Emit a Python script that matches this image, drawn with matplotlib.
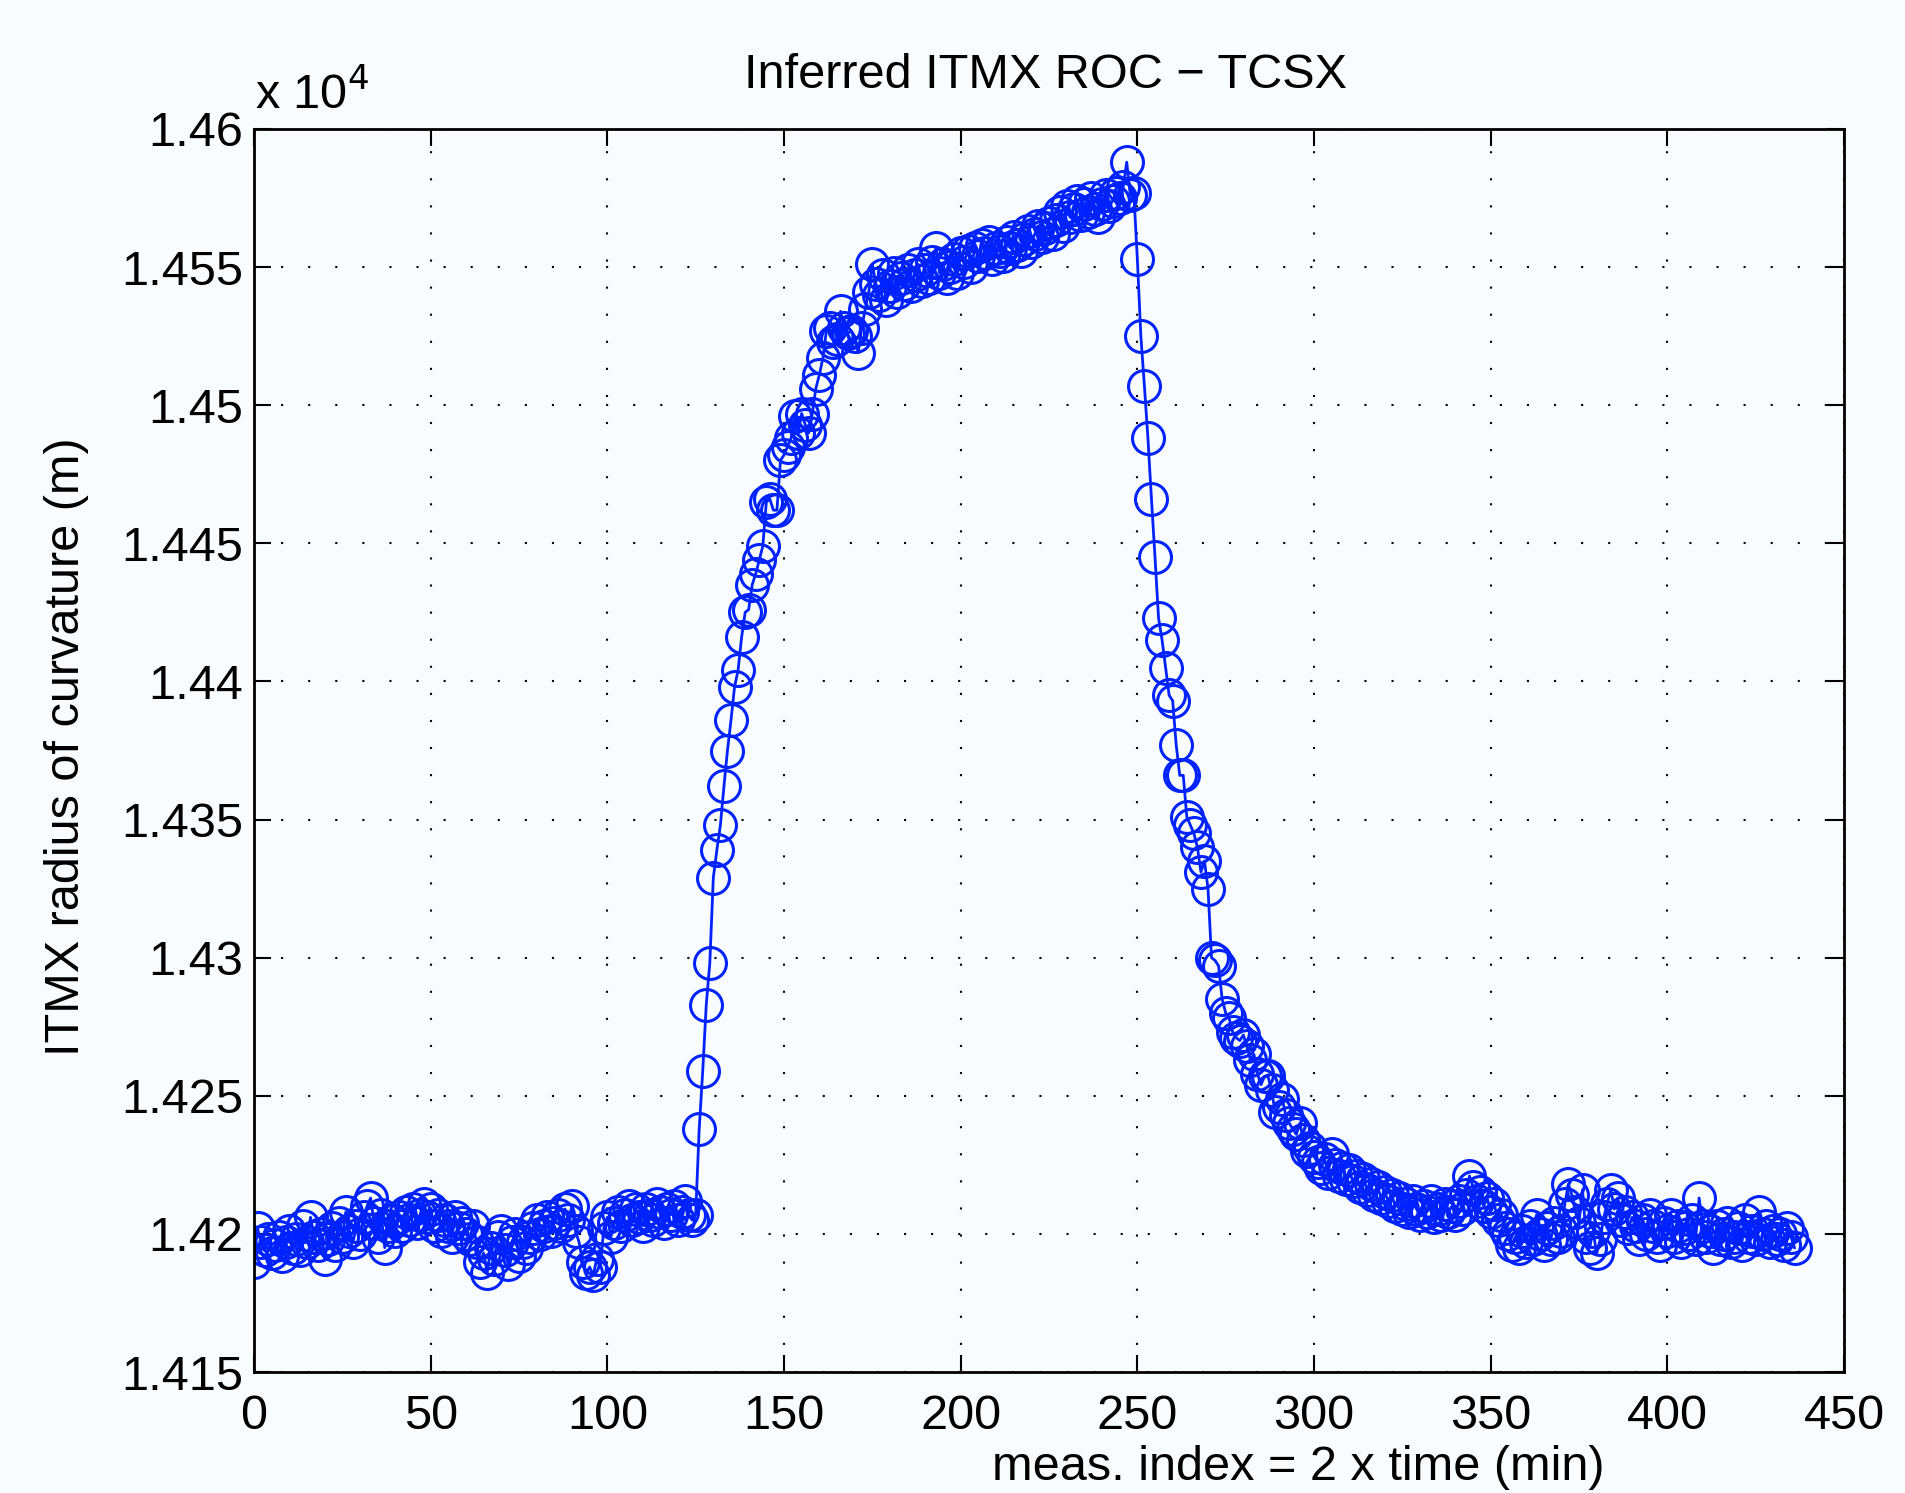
import matplotlib
matplotlib.use("Agg")
import matplotlib.pyplot as plt
from matplotlib.ticker import FuncFormatter
import numpy as np

title = "Inferred ITMX ROC \u2212 TCSX"
xlabel = "meas. index = 2 x time (min)"
ylabel = "ITMX radius of curvature (m)"

# ROC values in metres, one per measurement index (0..436)
roc_baseline = [
    14190, 14202, 14197, 14194, 14198, 14193, 14196, 14199, 14192, 14197,
    14201, 14195, 14198, 14194, 14203, 14197, 14206, 14199, 14196, 14200,
    14191, 14198, 14202, 14196, 14204, 14199, 14208, 14201, 14197, 14203,
    14200, 14206, 14210, 14213, 14204, 14199, 14207, 14195, 14203, 14205,
    14201, 14206, 14203, 14208, 14205, 14209, 14204, 14207, 14211, 14206,
    14209, 14203, 14207, 14201, 14205, 14203, 14199, 14206, 14202, 14204,
    14200, 14198, 14203, 14197, 14190, 14193, 14186, 14195, 14191, 14199,
    14201, 14194, 14189, 14197, 14200, 14192, 14197, 14195, 14199, 14202,
    14205, 14200, 14203, 14206, 14201, 14204, 14207, 14203, 14209, 14205,
    14210, 14201, 14197, 14190, 14186, 14188, 14185, 14191, 14188, 14202,
    14206, 14199, 14204, 14208, 14203, 14207, 14210, 14205, 14209, 14206,
    14203, 14209, 14207, 14205, 14211, 14208, 14204, 14209, 14207, 14210,
    14205, 14208, 14212, 14207, 14205, 14207,
]
roc_rise = [
    14238, 14259, 14283, 14298, 14329, 14339, 14348, 14362, 14375, 14386,
    14398, 14404, 14416, 14425, 14426, 14435, 14439, 14444, 14449, 14465,
    14466, 14462, 14462, 14480, 14482, 14485, 14488, 14496, 14490, 14497,
    14493, 14490, 14497, 14506, 14511, 14517, 14527, 14528, 14523, 14524,
    14534, 14528, 14526, 14527, 14525, 14519, 14528, 14535, 14541, 14551,
    14544,
]
roc_plateau = [
    14540, 14547, 14538, 14543, 14548, 14541, 14546, 14544, 14549, 14543,
    14547, 14551, 14545, 14549, 14546, 14552, 14557, 14548, 14551, 14546,
    14550, 14553, 14548, 14555, 14552, 14556, 14550, 14557, 14554, 14558,
    14555, 14559, 14553, 14557, 14556, 14554, 14559, 14557, 14561, 14558,
    14556, 14560, 14563, 14559, 14562, 14565, 14561, 14564, 14566, 14562,
    14567, 14570, 14565, 14572, 14568, 14571, 14574, 14569, 14573, 14570,
    14575, 14571, 14568, 14573, 14576, 14572, 14574, 14577, 14575, 14579,
    14588, 14576, 14577,
]
roc_fall = [
    14553, 14525, 14507, 14488, 14466, 14445, 14423, 14415, 14405, 14395,
    14393, 14377, 14366, 14366, 14351, 14348, 14345, 14340, 14331, 14335,
    14325, 14300, 14299, 14297, 14285, 14280, 14278, 14273, 14271, 14270,
    14272, 14268, 14263, 14265, 14258, 14254, 14257, 14257, 14252, 14244,
    14246, 14249, 14243, 14240, 14238, 14236, 14240, 14234, 14230, 14231,
    14228,
]
roc_recovered = [
    14226, 14224, 14227, 14222, 14229, 14225, 14221, 14224, 14220, 14223,
    14219, 14221, 14217, 14220, 14216, 14218, 14214, 14217, 14213, 14215,
    14212, 14214, 14210, 14213, 14209, 14211, 14208, 14212, 14209, 14207,
    14210, 14208, 14212, 14206, 14209, 14207, 14211, 14208, 14210, 14207,
    14212, 14209, 14214, 14221, 14217, 14212, 14215, 14210, 14213, 14208,
    14211, 14205, 14207, 14202, 14200, 14196, 14199, 14195, 14201, 14197,
    14203, 14198, 14207, 14200, 14196, 14202, 14198, 14204, 14199, 14201,
    14211, 14218, 14214, 14208, 14204, 14216, 14199, 14195, 14201, 14193,
    14198, 14206, 14211, 14216, 14209, 14213, 14205, 14208, 14202, 14206,
    14203, 14198, 14205, 14200, 14207, 14203, 14199, 14196, 14204, 14201,
    14207, 14199, 14203, 14197, 14202, 14200, 14205, 14198, 14213, 14203,
    14199, 14201, 14195, 14203, 14198, 14200, 14204, 14197, 14199, 14202,
    14196, 14205, 14199, 14201, 14198, 14208, 14200, 14203, 14197, 14201,
    14198, 14200, 14196, 14202, 14199, 14195,
]
roc = np.array(roc_baseline + roc_rise + roc_plateau + roc_fall + roc_recovered, dtype=float)
idx = np.arange(len(roc))

xticks = [0, 50, 100, 150, 200, 250, 300, 350, 400, 450]
yticks = [14150, 14200, 14250, 14300, 14350, 14400, 14450, 14500, 14550, 14600]

plt.rcParams['font.family'] = ['Liberation Sans', 'DejaVu Sans']
bg = '#f9fcfe'
fs = 35
fig = plt.figure(figsize=(19.05, 14.93), dpi=100, facecolor=bg)
ax = fig.add_axes([254/1905, 1 - 1372/1493, (1844-254)/1905, (1372-129)/1493])
ax.set_facecolor(bg)

ax.plot(idx, roc, '-', color='#0022ff', lw=2.0, marker='o', ms=23,
        mfc='none', mec='#0022ff', mew=2.2)

ax.set_xlim(0, 450)
ax.set_ylim(14150, 14600)
ax.set_xticks(xticks)
ax.set_yticks(yticks)
ax.yaxis.set_major_formatter(FuncFormatter(lambda v, p: ('%g' % (v / 1e4))))
ax.tick_params(direction='in', length=12, width=1.5, labelsize=fs,
               top=True, right=True)
ax.tick_params(axis='x', pad=16)
ax.tick_params(axis='y', pad=8)
ax.grid(True, color='black', linestyle=(0, (1, 12)), linewidth=1.5)
for s in ax.spines.values():
    s.set_linewidth(2)

fig.text(1045/1905, 1 - 75/1493, title, ha='center', va='center', fontsize=fs)
fig.text(255/1905, 1 - 95/1493, r'x 10$^{4}$', ha='left', va='center', fontsize=fs)
fig.text(67/1905, 1 - 747/1493, ylabel, ha='center', va='center', fontsize=fs, rotation=90)
fig.text(1298/1905, 3/1493, xlabel, ha='center', va='bottom', fontsize=fs)

fig.savefig('out.png', dpi=100, facecolor=bg)
